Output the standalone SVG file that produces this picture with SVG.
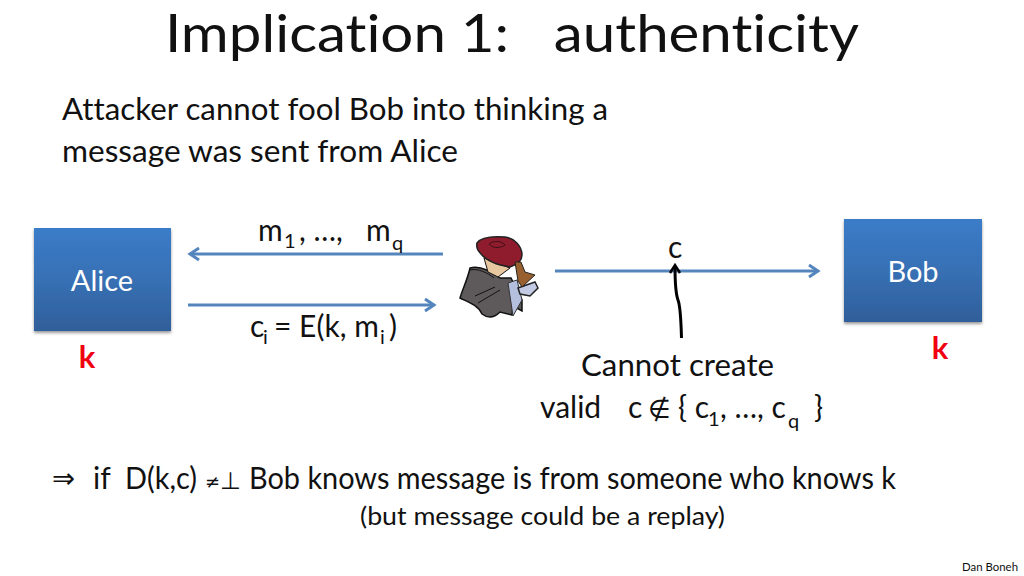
<svg xmlns="http://www.w3.org/2000/svg" width="1024" height="576" viewBox="0 0 1024 576">
<style>
text{font-family:Lato,"Noto Sans","Liberation Sans",sans-serif;fill:#111;font-variant-ligatures:none}
.t{font-size:31px}
.l{font-size:30px}
.s{font-size:20px}
.m{font-family:"DejaVu Sans",sans-serif}
.w{fill:#fff;font-size:29px;text-anchor:middle}
.k{fill:#f00010;font-size:31px;font-weight:700;text-anchor:middle}
.a{stroke:#5585bd;stroke-width:3.2;fill:none}
.h{stroke:#5585bd;stroke-width:3;fill:none}
.box{fill:url(#g);filter:url(#sh)}
</style>
<defs>
<linearGradient id="g" x1="0" y1="0" x2="0" y2="1"><stop offset="0" stop-color="#3b7cc9"/><stop offset=".5" stop-color="#3770b4"/><stop offset="1" stop-color="#2f5f9a"/></linearGradient>
<filter id="sh" x="-10%" y="-10%" width="120%" height="125%"><feDropShadow dx="0" dy="2" stdDeviation="1.5" flood-color="#000" flood-opacity=".4"/></filter>
</defs>
<rect width="1024" height="576" fill="#fff"/>
<text x="165" y="52" font-size="52" textLength="694" lengthAdjust="spacingAndGlyphs" xml:space="preserve">Implication 1:   authenticity</text>
<text class="t" x="62" y="120" textLength="546" lengthAdjust="spacingAndGlyphs">Attacker cannot fool Bob into thinking a</text>
<text class="t" x="62" y="162" textLength="396" lengthAdjust="spacingAndGlyphs">message was sent from Alice</text>
<g id="connectors">
<path class="a" d="M443 254H192"/><path class="h" d="M199 248L190 254L199 260"/>
<path class="a" d="M188 305H432"/><path class="h" d="M425 299L434 305L425 311"/>
<path class="a" d="M555 271H816"/><path class="h" d="M809 265L818 271L809 277"/>
<path d="M681.500 338C681 320 680 305 678 300C675 292 675 280 675 266" fill="none" stroke="#000" stroke-width="3"/>
<path d="M670 273L675 265L680 273" fill="none" stroke="#000" stroke-width="2.500"/>
</g>
<g id="alice"><rect class="box" x="34" y="228" width="137" height="103"/><text class="w" x="102" y="291">Alice</text></g>
<g id="bob"><rect class="box" x="844" y="219" width="138" height="103"/><text class="w" x="913" y="282">Bob</text></g>
<g id="attacker">
<path d="M470 268C480 265 492 272 500 278L511 278L522 300L522 311L513 306L512 315L500 312C492 320 486 317 482 314C478 305 468 302 460 298C463 288 468 278 470 268Z" fill="#5e5a5c" stroke="#111" stroke-width="1.500"/>
<path d="M508 283L517 280L522 300L513 316Z" fill="#b4bedd" stroke="#333"/>
<path d="M518 288L535 282L538 288L530 296L520 294Z" fill="#c3cbe4" stroke="#222" stroke-width="1.500"/>
<path d="M484 258L510 268L498 277L488 272Z" fill="#e6c7a0" stroke="#111"/>
<path d="M477 243C481 237 492 236 505 237C514 238 522 246 522 255C522 262 516 265 510 267C497 265 486 260 481 254C477 250 476 247 477 243Z" fill="#8f1c2d" stroke="#222" stroke-width="1.500"/>
<path d="M515 262L521 262L525 272L535 275L522 287L518 281Z" fill="#99602f" stroke="#222"/>
<path d="M489 244C494 240 502 241 505 245C501 248 493 249 489 244Z" fill="none" stroke="#401018"/>
<path d="M470 270C478 268 488 273 494 278M475 296L495 287M478 303L500 290" fill="none" stroke="#111"/>
</g>
<text class="l" x="258" y="241">m</text><text class="s" x="284" y="248">1</text><text class="l" x="299" y="241">, …,</text><text class="l" x="366" y="241">m</text><text class="s" x="392" y="250">q</text>
<text class="l" x="250" y="337">c</text><text class="s" x="263" y="344">i</text><text class="l" x="274" y="337">= E(k, m</text><text class="s" x="380" y="344">i</text><text class="l" x="389" y="337">)</text>
<text class="l" x="668" y="258">c</text>
<text class="k" x="87" y="368">k</text>
<text class="k" x="940" y="359">k</text>
<text class="l" x="581" y="376" textLength="193" lengthAdjust="spacingAndGlyphs">Cannot create</text>
<text class="l" x="540" y="418">valid</text><text class="l" x="628" y="418">c</text><text class="m" x="648" y="418" font-size="26">∉</text><text class="l" x="678" y="418">{ c</text><text class="s" x="708" y="426">1</text><text class="l" x="720" y="418">, …, c</text><text class="s" x="788" y="428">q</text><text class="l" x="814" y="418">}</text>
<text class="m" x="52" y="488" font-size="28" textLength="23" lengthAdjust="spacingAndGlyphs">⇒</text>
<text class="l" x="93" y="489">if</text>
<text class="l" x="125" y="489" textLength="72" lengthAdjust="spacingAndGlyphs">D(k,c)</text>
<text class="m" x="205" y="488" font-size="18">≠</text><text class="m" x="220" y="489" font-size="24">⊥</text>
<text class="l" x="249" y="489" textLength="647" lengthAdjust="spacingAndGlyphs">Bob knows message is from someone who knows k</text>
<text x="360" y="525" font-size="25" textLength="365" lengthAdjust="spacingAndGlyphs">(but message could be a replay)</text>
<text x="962" y="571" font-size="12" textLength="56" lengthAdjust="spacingAndGlyphs">Dan Boneh</text>
</svg>
